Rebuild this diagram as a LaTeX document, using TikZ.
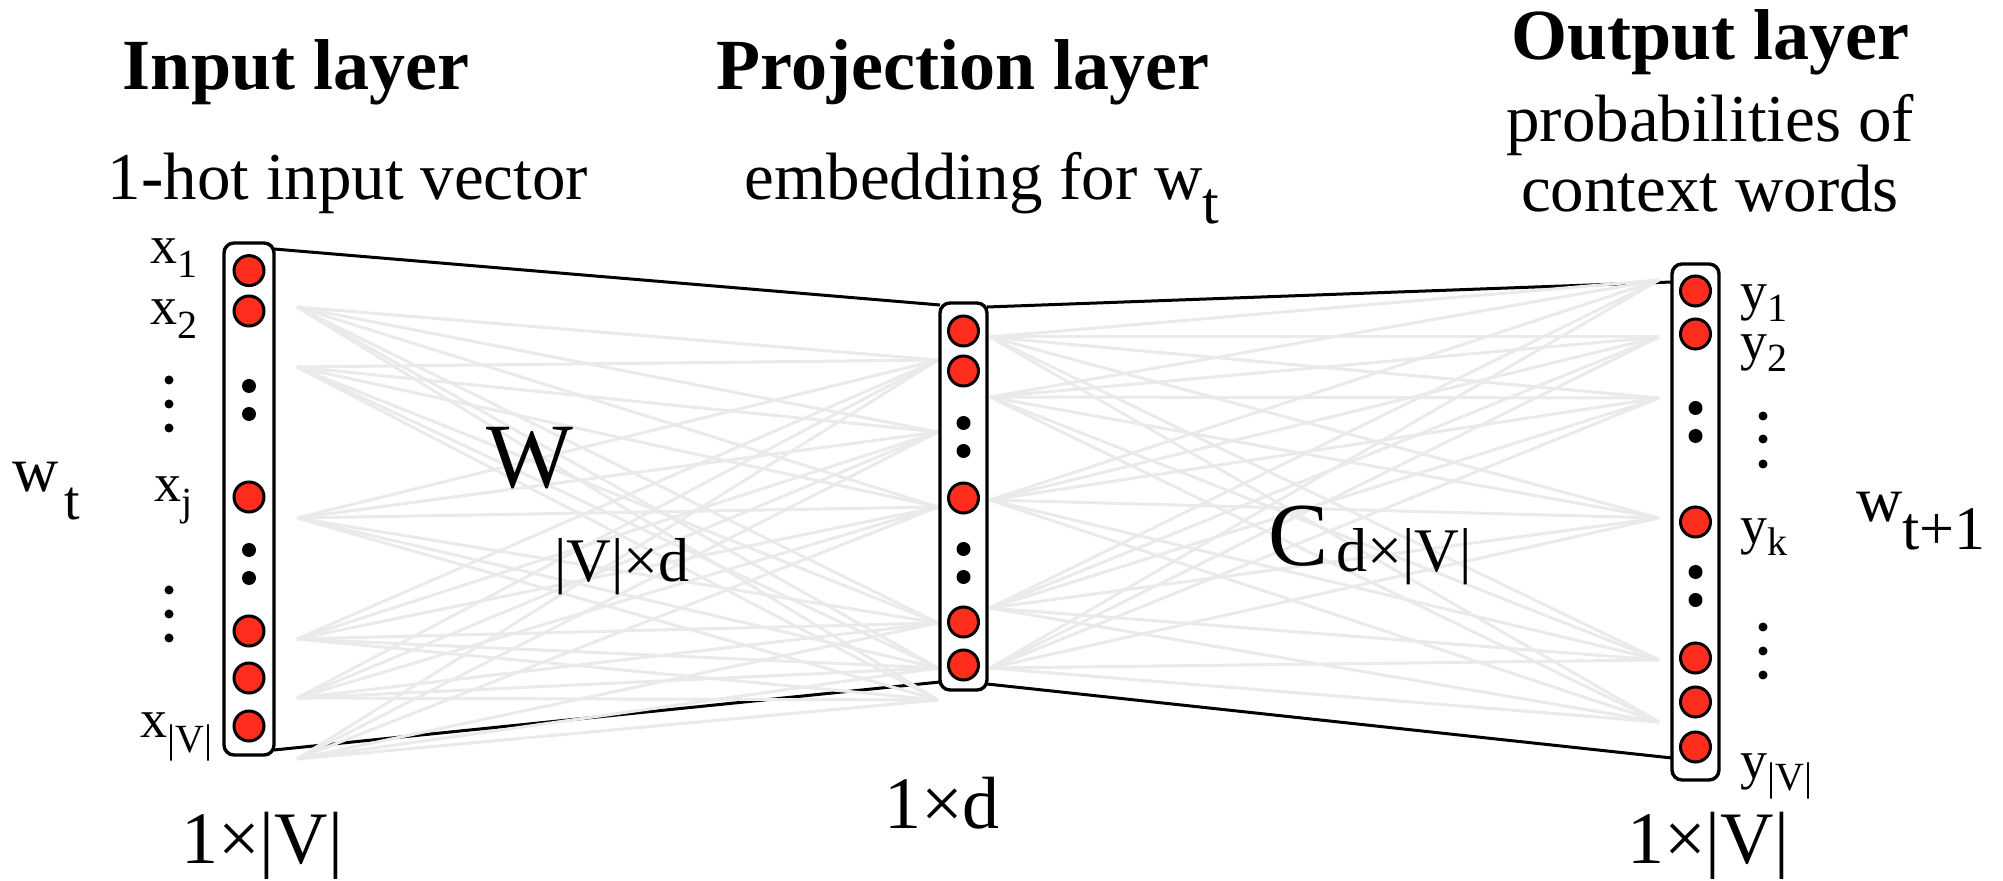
\documentclass[tikz,border=0pt]{standalone}
\usepackage{fontspec}
\setmainfont{Liberation Serif}
\usetikzlibrary{calc}
\pgfdeclarelayer{background}
\pgfsetlayers{background,main}
\definecolor{neuron}{RGB}{255,45,30}
\definecolor{wire}{RGB}{234,234,234}
\newcommand\fs[1]{\fontsize{#1}{#1}\selectfont}
\newcommand\lowsub[3]{\raisebox{#1}{\fs{#2}#3}}
\begin{document}
\begin{tikzpicture}[x=0.5pt,y=-0.5pt,
  layerbox/.style={draw,line width=1.7pt,rounded corners=5pt,fill=white,inner sep=0pt},
  neuronnode/.style={circle,draw,line width=1.5pt,fill=neuron,minimum size=15pt,inner sep=0pt},
  bigdot/.style={circle,fill=black,minimum size=7pt,inner sep=0pt},
  smalldot/.style={circle,fill=black,minimum size=4.5pt,inner sep=0pt},
  graywire/.style={draw=wire,line width=1.5pt},
  edge/.style={draw=black,line width=1.5pt},
  txt/.style={inner sep=0pt,anchor=base},
  lbl/.style={inner sep=0pt,anchor=base west},
]
\useasboundingbox (0,0) rectangle (2003,881);

% layer boxes
\node[layerbox,minimum width=25pt,minimum height=256pt] (inbox) at (249,499) {};
\node[layerbox,minimum width=23.5pt,minimum height=193.5pt] (midbox) at (963.5,496.5) {};
\node[layerbox,minimum width=23.5pt,minimum height=258pt] (outbox) at (1695.5,522) {};

% neurons
\foreach \y [count=\i] in {270.6,311,497,631,678,726}
  \node[neuronnode] (in\i) at (249,\y) {};
\foreach \y [count=\i] in {331,371,498,622,665}
  \node[neuronnode] (mid\i) at (963.5,\y) {};
\foreach \y [count=\i] in {291,334,522,658,702,747}
  \node[neuronnode] (out\i) at (1695.5,\y) {};

% dots inside boxes
\foreach \y [count=\i] in {386,414,550,578}
  \node[bigdot] (ind\i) at (249,\y) {};
\foreach \y [count=\i] in {423,451,549,577}
  \node[bigdot] (midd\i) at (963.5,\y) {};
\foreach \y [count=\i] in {408,436,572,600}
  \node[bigdot] (outd\i) at (1695.5,\y) {};

% dots beside the labels
\foreach \y [count=\i] in {380,404,428,590,614,638}
  \node[smalldot] (ldot\i) at (169,\y) {};
\foreach \y [count=\i] in {416,439,464,627,651,675}
  \node[smalldot] (rdot\i) at (1763,\y) {};

% wire end points
\foreach \y [count=\i] in {307,367,518,639,698,759}
  \coordinate (aL\i) at (297,\y);
\foreach \y [count=\i] in {360,432,507,623,668,700}
  \coordinate (aR\i) at (938,\y);
\foreach \y [count=\i] in {337,397,500,608,668}
  \coordinate (bL\i) at (990,\y);
\foreach \y [count=\i] in {280,337,398,518,660,722}
  \coordinate (bR\i) at (1659,\y);

\coordinate (inT) at (274,249);
\coordinate (inB) at (274,750);
\coordinate (midTL) at (940,305);
\coordinate (midBL) at (940,682);
\coordinate (midTR) at (987,307);
\coordinate (midBR) at (987,684);
\coordinate (outT) at (1672,282);
\coordinate (outB) at (1672,758);

\begin{pgfonlayer}{background}
  \draw[edge] (inT) -- (midTL);
  \draw[edge] (inB) -- (midBL);
  \draw[edge] (midTR) -- (outT);
  \draw[edge] (midBR) -- (outB);
  \foreach \i in {1,...,6}
    \foreach \j in {1,...,6}
      \draw[graywire] (aL\i) -- (aR\j);
  \foreach \i in {1,...,5}
    \foreach \j in {1,...,6}
      \draw[graywire] (bL\i) -- (bR\j);
\end{pgfonlayer}

% headings
\node[txt] (h1) at (296,90) {\fs{36}\bfseries Input layer};
\node[txt] (h2) at (963,90) {\fs{36}\bfseries Projection layer};
\node[txt] (h3) at (1710,60) {\fs{36}\bfseries Output layer};
\node[txt] (s1) at (348,200) {\fs{33.5}1-hot input vector};
\node[txt] (s2) at (982,200) {\fs{33.5}embedding for w\lowsub{-12pt}{30}{t}};
\node[txt] (s3a) at (1710,142) {\fs{33.5}probabilities of};
\node[txt] (s3b) at (1710,212) {\fs{33.5}context words};

% input labels
\node[lbl] (lx1) at (150,264) {\fs{27}x\lowsub{-7pt}{20}{1}};
\node[lbl] (lx2) at (150,325) {\fs{27}x\lowsub{-7pt}{20}{2}};
\node[lbl] (lxj) at (154,502) {\fs{27}x\lowsub{-7pt}{20}{j}};
\node[lbl] (lxv) at (140,738) {\fs{27}x\lowsub{-7pt}{20}{|V|}};

% output labels
\node[lbl] (ly1) at (1740,310) {\fs{27}y\lowsub{-6pt}{20}{1}};
\node[lbl] (ly2) at (1740,360) {\fs{27}y\lowsub{-6pt}{20}{2}};
\node[lbl] (lyk) at (1740,544) {\fs{27}y\lowsub{-6pt}{20}{k}};
\node[lbl] (lyv) at (1740,778) {\fs{27}y\lowsub{-6pt}{20}{|V|}};

% words
\node[lbl] (wt) at (12,492) {\fs{32}w\hspace{3pt}\lowsub{-14pt}{28}{t}};
\node[lbl] (wt1) at (1856,522) {\fs{32}w\lowsub{-14pt}{31}{t+1}};

% matrices
\node[lbl] (Wm) at (486,488) {\fs{46}W};
\node[lbl] (Wsub) at (554,582) {\fs{31}|V|×d};
\node[lbl] (Cm) at (1268,566) {\fs{45}C};
\node[lbl] (Csub) at (1336,572) {\fs{31}d×|V|};

% dimensions
\node[txt] (d1) at (262,863) {\fs{37}1×|V|};
\node[txt] (d2) at (942,828) {\fs{37}1×d};
\node[txt] (d3) at (1708,863) {\fs{37}1×|V|};
\end{tikzpicture}
\end{document}
